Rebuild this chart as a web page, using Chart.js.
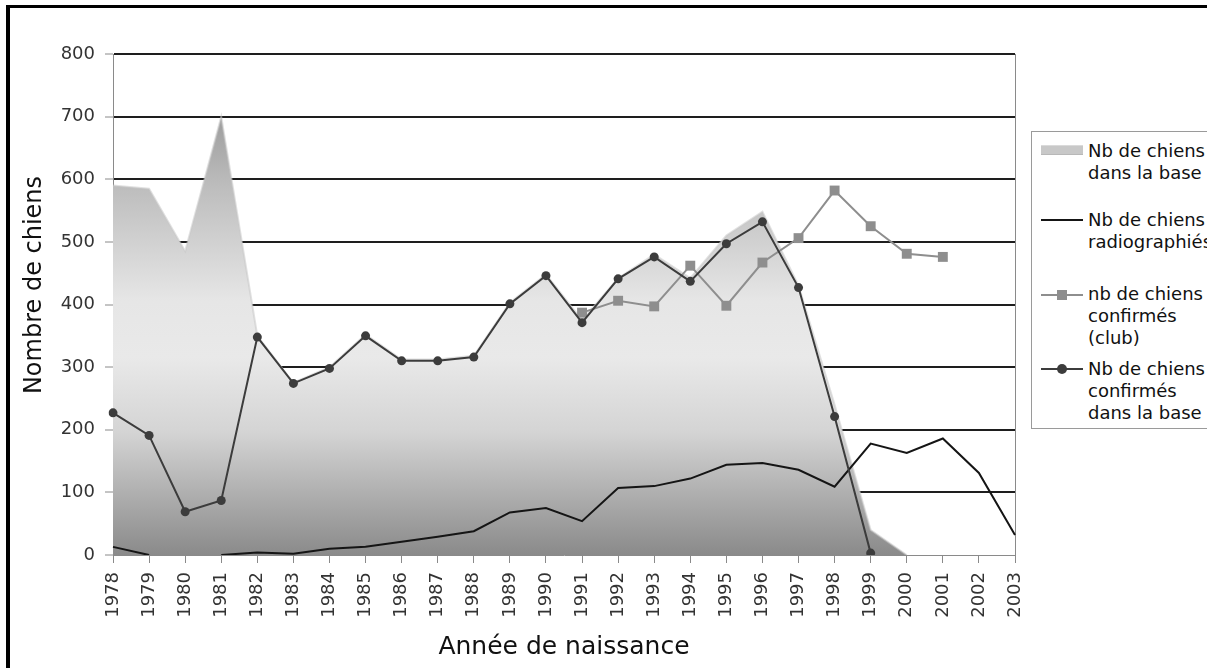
<!DOCTYPE html>
<html>
<head>
<meta charset="utf-8">
<script src="https://cdn.jsdelivr.net/npm/chart.js@4.4.1/dist/chart.umd.min.js"></script>
<style>
  html, body { margin: 0; padding: 0; background: #fff; overflow: hidden; }
  #wrap { position: relative; width: 1207px; height: 668px; overflow: hidden; }
  #frame { position: absolute; left: 6px; top: 5px; width: 1400px; height: 900px;
           border-left: 4px solid #000; border-top: 3px solid #000; pointer-events: none; }
  #legend { position: absolute; left: 1031px; top: 131px; width: 230px; height: 296px;
            border: 1px solid #9a9a9a; background: #fff;
            font-family: "DejaVu Sans", sans-serif; font-size: 18px; color: #111; }
  .sym { position: absolute; left: 9px; width: 42px; }
  .txt { position: absolute; left: 56px; line-height: 22px; white-space: nowrap; }
</style>
</head>
<body>
<div id="wrap">
  <canvas id="line-chart" width="1207" height="668"></canvas>
  <div id="legend"></div>
  <div id="frame"></div>
</div>
<script>
var years = ['1978', '1979', '1980', '1981', '1982', '1983', '1984', '1985', '1986', '1987', '1988', '1989', '1990',
             '1991', '1992', '1993', '1994', '1995', '1996', '1997', '1998', '1999', '2000', '2001', '2002', '2003'];

// Nb de chiens dans la base (area)
var dansLaBase = [590, 585, 485, 700, 350, 275, 300, 352, 312, 312, 318, 403, 448,
                  375, 442, 480, 442, 510, 548, 430, 240, 40, 0, null, null, null];
// Nb de chiens radiographiés
var radiographies = [13, 0, null, 0, 4, 2, 10, 13, 21, 29, 38, 68, 75,
                     54, 107, 110, 122, 144, 147, 136, 109, 178, 163, 186, 131, 32];
// nb de chiens confirmés (club)
var confirmesClub = [null, null, null, null, null, null, null, null, null, null, null, null, null,
                     387, 406, 397, 462, 398, 467, 506, 582, 525, 481, 476, null, null];
// Nb de chiens confirmés dans la base
var confirmesBase = [227, 191, 69, 87, 348, 274, 298, 350, 310, 310, 316, 401, 446,
                     371, 441, 476, 437, 497, 532, 427, 221, 3, null, null, null, null];

var labels = ['Nb de chiens dans la base', 'Nb de chiens radiographiés',
              'nb de chiens confirmés (club)', 'Nb de chiens confirmés dans la base'];
var legendLines = [['Nb de chiens', 'dans la base'], ['Nb de chiens', 'radiographiés'],
                   ['nb de chiens', 'confirmés', '(club)'], ['Nb de chiens', 'confirmés', 'dans la base']];
var yTitle = 'Nombre de chiens';
var xTitle = 'Année de naissance';

function areaFill(c) {
    var chart = c.chart;
    if (!chart.chartArea) return '#cccccc';
    var y = chart.scales.y;
    var top = y.getPixelForValue(700), bottom = y.getPixelForValue(0);
    var g = chart.ctx.createLinearGradient(0, top, 0, bottom);
    g.addColorStop(0, '#9c9c9c');
    g.addColorStop(0.16, '#bdbdbd');
    g.addColorStop(0.42, '#e6e6e6');
    g.addColorStop(0.55, '#e9e9e9');
    g.addColorStop(0.72, '#d4d4d4');
    g.addColorStop(1, '#8a8a8a');
    return g;
}

var extras = {
    id: 'extras',
    beforeDatasetsDraw: function (chart) {
        var a = chart.chartArea, ctx = chart.ctx;
        ctx.save();
        ctx.strokeStyle = '#8a8a8a';
        ctx.lineWidth = 1;
        ctx.beginPath();
        ctx.moveTo(a.right + 0.5, a.top);
        ctx.lineTo(a.right + 0.5, a.bottom);
        ctx.stroke();
        ctx.restore();
    },
    afterDraw: function (chart) {
        var ctx = chart.ctx;
        ctx.save();
        ctx.translate(35, 285);
        ctx.rotate(-Math.PI / 2);
        ctx.font = '24px "DejaVu Sans"';
        ctx.fillStyle = '#111';
        ctx.textAlign = 'center';
        ctx.textBaseline = 'middle';
        ctx.fillText(yTitle, 0, 0);
        ctx.restore();
    }
};

new Chart(document.getElementById('line-chart'), {
    type: 'line',
    data: {
        labels: years,
        datasets: [{
            label: labels[0],
            data: dansLaBase,
            order: 4,
            fill: 'origin',
            backgroundColor: areaFill,
            borderColor: 'rgba(200,200,200,0.55)',
            borderWidth: 2,
            pointRadius: 0,
            tension: 0
        }, {
            label: labels[1],
            data: radiographies,
            order: 3,
            borderColor: '#151515',
            borderWidth: 2,
            pointRadius: 0,
            spanGaps: false
        }, {
            label: labels[2],
            data: confirmesClub,
            order: 2,
            borderColor: '#8e8e8e',
            backgroundColor: '#8e8e8e',
            borderWidth: 2,
            pointStyle: 'rect',
            pointRadius: 7,
            pointBorderWidth: 0
        }, {
            label: labels[3],
            data: confirmesBase,
            order: 1,
            borderColor: '#3c3c3c',
            backgroundColor: '#3c3c3c',
            borderWidth: 2,
            pointStyle: 'circle',
            pointRadius: 4.5,
            pointBorderWidth: 0
        }]
    },
    options: {
        responsive: false,
        animation: false,
        layout: { padding: { top: 54, right: 192, bottom: 0, left: 0 } },
        plugins: {
            legend: { display: false },
            tooltip: { enabled: false }
        },
        scales: {
            x: {
                grid: { drawOnChartArea: false, tickLength: 8, color: '#8a8a8a' },
                border: { color: '#8a8a8a' },
                ticks: {
                    autoSkip: false, minRotation: 90, maxRotation: 90, padding: 9,
                    color: '#333', font: { family: 'DejaVu Sans', size: 18 }
                },
                title: {
                    display: true, text: xTitle, color: '#111',
                    font: { family: 'DejaVu Sans', size: 25 },
                    padding: { top: 0, bottom: 6 }
                },
                afterFit: function (s) { s.height = 113; }
            },
            y: {
                min: 0, max: 800,
                grid: {
                    color: function (c) { return c.tick && c.tick.value === 0 ? 'rgba(0,0,0,0)' : '#1e1e1e'; },
                    lineWidth: 2,
                    tickColor: '#8a8a8a',
                    tickWidth: 1,
                    tickLength: 8
                },
                border: { color: '#8a8a8a' },
                ticks: {
                    stepSize: 100, padding: 10,
                    color: '#333', font: { family: 'DejaVu Sans', size: 18 }
                },
                afterFit: function (s) { s.width = 113; }
            }
        }
    },
    plugins: [extras]
});

// legend on the right, lines wrapped like the original
var legendTops = [8, 77, 151, 226];
var symTops = [17, 88, 163, 237];
var html = '';
for (var i = 0; i < labels.length; i++) {
    var s = symTops[i], sym = '';
    if (i === 0) {
        sym = '<div class="sym" style="top:' + (s - 4) + 'px;height:8px;background:#c8c8c8;border-top:1px solid #dadada;border-bottom:1px solid #b8b8b8"></div>';
    } else if (i === 1) {
        sym = '<div class="sym" style="top:' + (s - 1) + 'px;height:2px;background:#151515"></div>';
    } else if (i === 2) {
        sym = '<div class="sym" style="top:' + (s - 1) + 'px;height:2px;background:#8e8e8e"></div>' +
              '<div style="position:absolute;left:25px;top:' + (s - 5) + 'px;width:10px;height:10px;background:#8e8e8e"></div>';
    } else {
        sym = '<div class="sym" style="top:' + (s - 1) + 'px;height:2px;background:#3c3c3c"></div>' +
              '<div style="position:absolute;left:25px;top:' + (s - 5) + 'px;width:10px;height:10px;border-radius:5px;background:#3c3c3c"></div>';
    }
    html += sym + '<div class="txt" style="top:' + legendTops[i] + 'px">' + legendLines[i].join('<br>') + '</div>';
}
document.getElementById('legend').innerHTML = html;
</script>
</body>
</html>
